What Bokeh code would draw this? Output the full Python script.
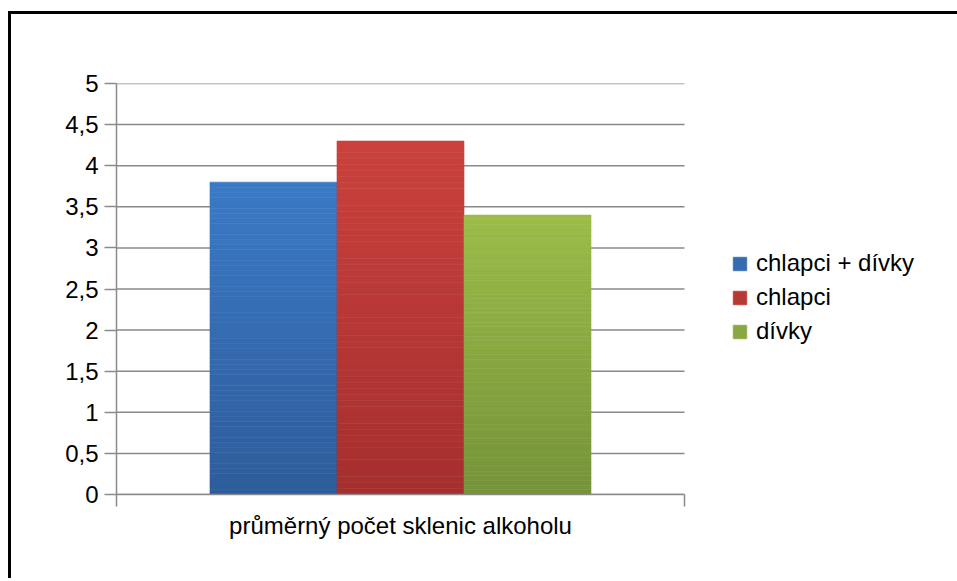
import numpy as np
from bokeh.plotting import figure
from bokeh.models import Range1d, FixedTicker, Legend, LegendItem, ColumnDataSource, Title
from bokeh.embed import file_html
from bokeh.resources import INLINE

# ---- data ----
categories = ["průměrný počet sklenic alkoholu"]
series = ["chlapci + dívky", "chlapci", "dívky"]
values = [3.8, 4.3, 3.4]
y_ticks = [0, 0.5, 1, 1.5, 2, 2.5, 3, 3.5, 4, 4.5, 5]
y_tick_labels = ["0", "0,5", "1", "1,5", "2", "2,5", "3", "3,5", "4", "4,5", "5"]

# ---- style ----
top_colors = [(0x3b, 0x79, 0xc6), (0xca, 0x41, 0x3d), (0x9b, 0xbc, 0x48)]
bottom_colors = [(0x2e, 0x5d, 0x9b), (0xa5, 0x2f, 0x2e), (0x76, 0x93, 0x3a)]
FONT = "Liberation Sans"
FS = "24px"
GRAY = "#8a8a8a"
bar_w = 0.2236
N = 60
PX_PER_UNIT = 568.0
CANVAS_W = 960
LEFT = 105
x_start, x_end_axis = -0.5, 0.5
x_end = x_start + (CANVAS_W - LEFT) / PX_PER_UNIT

p = figure(width=CANVAS_W, height=567, x_range=Range1d(x_start, x_end), y_range=Range1d(0, 5),
           output_backend="svg", toolbar_location=None,
           min_border_left=LEFT, min_border_right=0, min_border_top=69, min_border_bottom=87)
p.styles = {"border-left": "3px solid black", "border-top": "3px solid black"}
p.margin = (11, 0, 0, 8)
p.outline_line_color = None
p.background_fill_color = "white"
p.border_fill_color = "white"

# horizontal grid lines limited to the plot area
p.segment(x0=[x_start] * len(y_ticks), x1=[x_end_axis] * len(y_ticks), y0=y_ticks, y1=y_ticks,
          line_color=GRAY, line_width=1.5)

items = []
n = len(series)
for i, (name, v) in enumerate(zip(series, values)):
    x_center = 0 + (i - (n - 1) / 2) * bar_w  # category index 0 centred at 0
    ks = np.arange(N)
    bottoms = v * ks / N
    tops = v * (ks + 1) / N
    t = ks / (N - 1)
    cols = []
    for tt in t:
        c = [int(round(bottom_colors[i][j] + (top_colors[i][j] - bottom_colors[i][j]) * tt)) for j in range(3)]
        cols.append("#%02x%02x%02x" % tuple(c))
    src = ColumnDataSource(dict(x=[x_center] * N, bottom=bottoms, top=tops, color=cols))
    r = p.vbar(x="x", bottom="bottom", top="top", width=bar_w, fill_color="color",
               line_color="color", line_width=0.6, source=src)
    items.append(LegendItem(label=name, renderers=[r], index=N // 2))

legend = Legend(items=items, location=(615, 149), border_line_color=None,
                background_fill_alpha=0, padding=0, margin=0,
                glyph_width=17, glyph_height=17, spacing=6, label_standoff=8,
                label_text_font=FONT, label_text_font_size=FS, label_text_color="#000000")
p.add_layout(legend, "center")

# y axis
p.yaxis.ticker = FixedTicker(ticks=y_ticks)
p.yaxis.major_label_overrides = {t: l for t, l in zip(y_ticks, y_tick_labels)}
p.yaxis.major_tick_out = 12
p.yaxis.major_tick_in = 0
p.yaxis.minor_tick_line_color = None
p.yaxis.axis_line_color = GRAY
p.yaxis.axis_line_width = 1.5
p.yaxis.major_tick_line_color = GRAY
p.yaxis.major_tick_line_width = 1.5
p.yaxis.major_label_text_font = FONT
p.yaxis.major_label_text_font_size = FS
p.yaxis.major_label_text_color = "#000000"
p.yaxis.major_label_standoff = 6

# x axis
p.xaxis.ticker = FixedTicker(ticks=[x_start, x_end_axis])
p.xaxis.bounds = (x_start, x_end_axis)
p.xaxis.major_label_overrides = {x_start: "", x_end_axis: ""}
p.xaxis.major_label_standoff = 12
p.xaxis.major_tick_out = 12
p.xaxis.major_tick_in = 0
p.xaxis.minor_tick_line_color = None
p.xaxis.axis_line_color = GRAY
p.xaxis.axis_line_width = 1.5
p.xaxis.major_tick_line_color = GRAY
p.xaxis.major_tick_line_width = 1.5

p.xgrid.visible = False
p.ygrid.visible = False

# category label centred under the plot area
label_w = 14.283 * 24
cat_title = Title(text=categories[0], align="left", offset=PX_PER_UNIT / 2 - label_w / 2,
                  text_font=FONT, text_font_size=FS, text_font_style="normal",
                  text_color="#000000", standoff=7)
p.add_layout(cat_title, "below")

open("out.html", "w").write(file_html(p, INLINE))
